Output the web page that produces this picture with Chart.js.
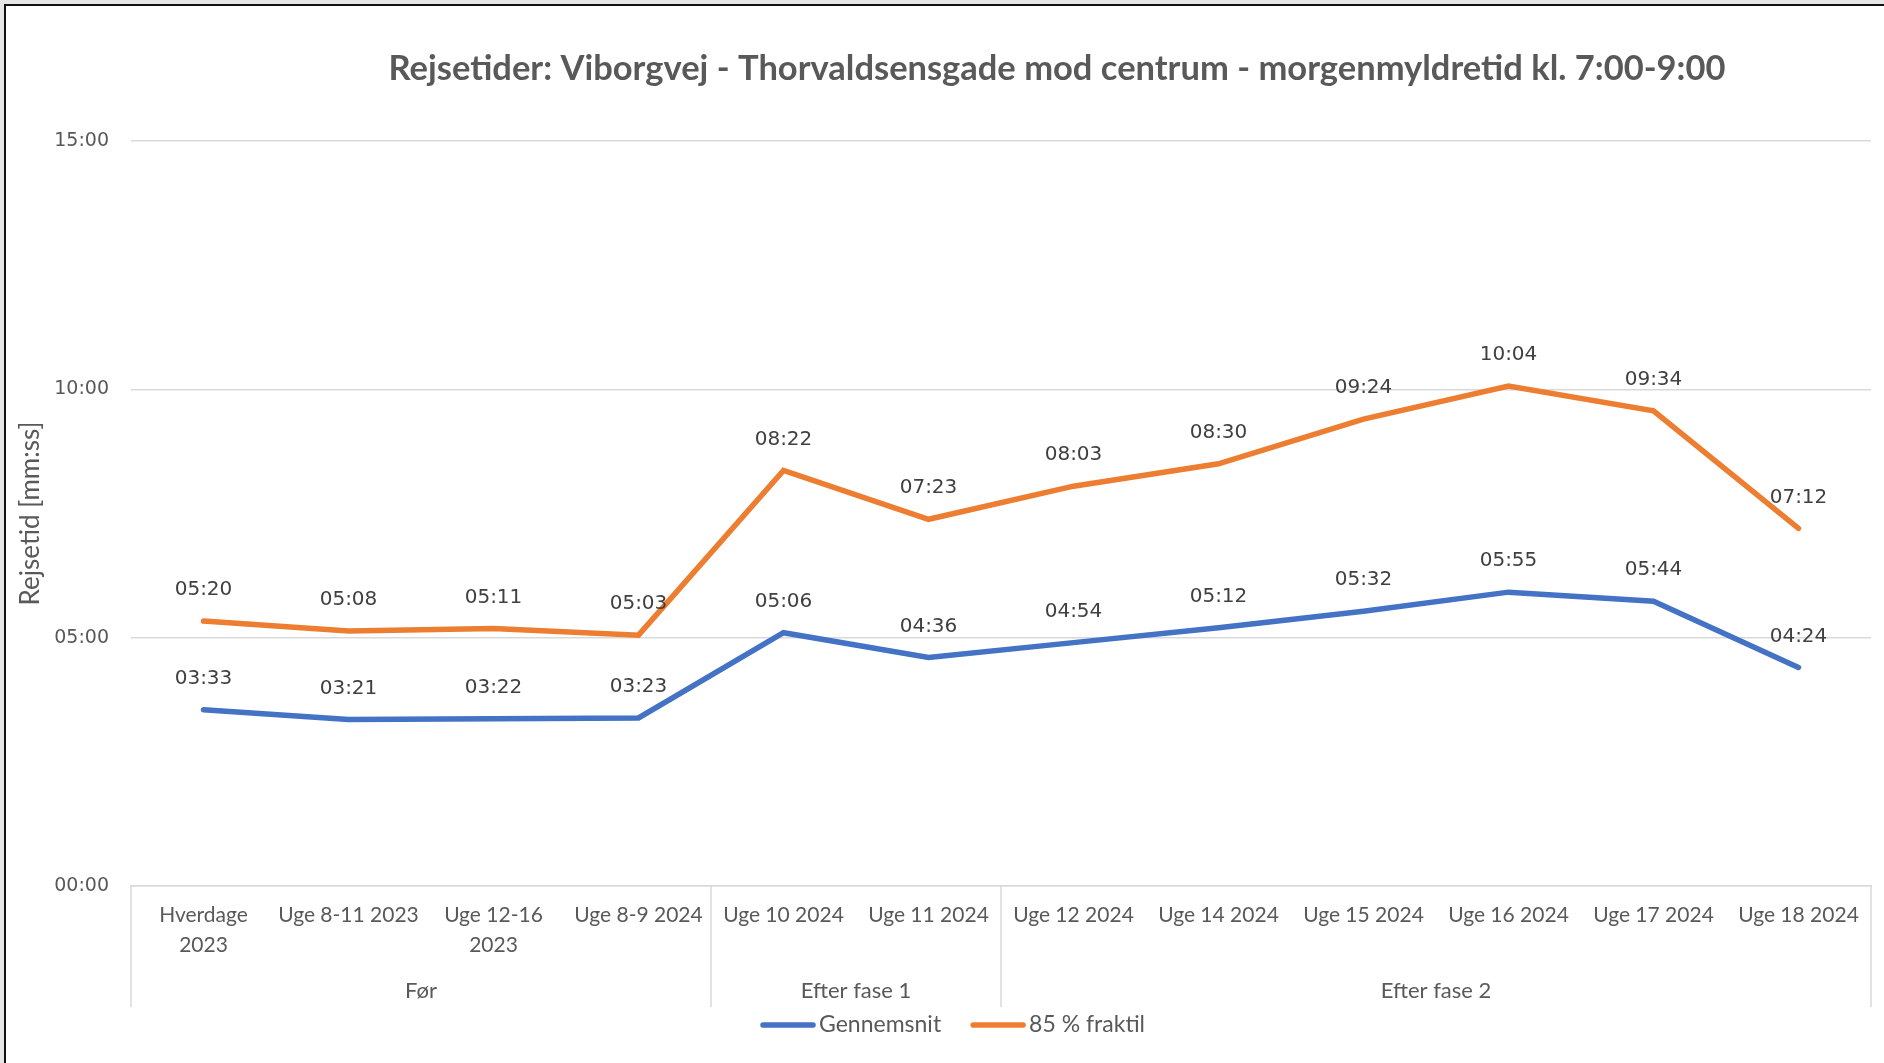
<!DOCTYPE html>
<html>
<head>
<meta charset="utf-8">
<script src="https://cdn.jsdelivr.net/npm/chart.js@4.4.1/dist/chart.umd.min.js"></script>
<style>
  html, body { margin: 0; padding: 0; background: #fff; }
  #wrap { position: relative; width: 1884px; height: 1063px; }
</style>
</head>
<body>
<div id="wrap"><canvas id="travelChart"></canvas></div>
<script>
const categories = [['Hverdage', '2023'], 'Uge 8-11 2023', ['Uge 12-16', '2023'], 'Uge 8-9 2024',
    'Uge 10 2024', 'Uge 11 2024', 'Uge 12 2024', 'Uge 14 2024', 'Uge 15 2024', 'Uge 16 2024',
    'Uge 17 2024', 'Uge 18 2024'];
const groupNames = ['Før', 'Efter fase 1', 'Efter fase 2'];
const groupSizes = [4, 2, 6];
// travel times in seconds
const avgSeconds = [213, 201, 202, 203, 306, 276, 294, 312, 332, 355, 344, 264];
const p85Seconds = [320, 308, 311, 303, 502, 443, 483, 510, 564, 604, 574, 432];
const yMax = 900;
const yStep = 300;

const TITLE = 'Rejsetider: Viborgvej - Thorvaldsensgade mod centrum - morgenmyldretid kl. 7:00-9:00';
const SANS = "'Lato', sans-serif";
const GOTHIC = "'DejaVu Sans', sans-serif";

// seconds -> mm:ss
function mmss(sec) {
    const m = Math.floor(sec / 60);
    const s = Math.round(sec % 60);
    return String(m).padStart(2, '0') + ':' + String(s).padStart(2, '0');
}

// page frame (border lines of the original screenshot)
const framePlugin = {
    id: 'frame',
    beforeDraw(chart) {
        const ctx = chart.ctx;
        ctx.save();
        ctx.fillStyle = '#ffffff';
        ctx.fillRect(0, 0, chart.width, chart.height);
        ctx.fillStyle = '#e6e6e6';
        ctx.fillRect(0, 0, 4, chart.height);
        ctx.fillRect(0, 0, chart.width, 4);
        ctx.fillStyle = '#111111';
        ctx.fillRect(4, 4, 2, chart.height);
        ctx.fillRect(4, 4, chart.width, 2);
        ctx.restore();
    }
};

// value labels above each point
const pointLabelsPlugin = {
    id: 'pointLabels',
    afterDatasetsDraw(chart) {
        const ctx = chart.ctx;
        ctx.save();
        ctx.font = '20px ' + GOTHIC;
        ctx.fillStyle = '#404040';
        ctx.textAlign = 'center';
        ctx.textBaseline = 'middle';
        chart.data.datasets.forEach((ds, di) => {
            chart.getDatasetMeta(di).data.forEach((pt, i) => {
                ctx.fillText(mmss(ds.data[i]), pt.x, pt.y - 31);
            });
        });
        ctx.restore();
    }
};

// second category level (group names) and separators
const groupAxisPlugin = {
    id: 'groupAxis',
    afterDraw(chart) {
        const ctx = chart.ctx;
        const x = chart.scales.x;
        const top = chart.chartArea.bottom;
        const bottom = top + 121;
        ctx.save();
        ctx.strokeStyle = '#d9d9d9';
        ctx.lineWidth = 1.5;
        ctx.font = '22px ' + SANS;
        ctx.fillStyle = '#595959';
        ctx.textAlign = 'center';
        ctx.textBaseline = 'middle';
        let start = 0;
        const edges = [x.getPixelForValue(-0.5)];
        groupSizes.forEach((n, g) => {
            const left = x.getPixelForValue(start - 0.5);
            const right = x.getPixelForValue(start + n - 0.5);
            edges.push(right);
            ctx.fillText(groupNames[g], (left + right) / 2, top + 105);
            start += n;
        });
        edges.forEach(px => {
            ctx.beginPath();
            ctx.moveTo(px, top);
            ctx.lineTo(px, bottom);
            ctx.stroke();
        });
        ctx.restore();
    }
};

// title and legend, placed like in the original
const decorPlugin = {
    id: 'decor',
    afterDraw(chart) {
        const ctx = chart.ctx;
        ctx.save();
        ctx.font = 'bold 34.5px ' + SANS;
        ctx.fillStyle = '#595959';
        ctx.textAlign = 'center';
        ctx.textBaseline = 'middle';
        ctx.fillText(TITLE, 1057, 69);

        // legend: line swatch + label
        ctx.font = '23px ' + SANS;
        ctx.textAlign = 'left';
        const swatch = 54, gap = 4, itemGap = 30;
        const items = chart.data.datasets.map(ds => ({
            text: ds.label, color: ds.borderColor, w: ctx.measureText(ds.label).width
        }));
        const total = items.reduce((a, it) => a + swatch + gap + it.w, 0) + itemGap * (items.length - 1);
        let lx = chart.width / 2 + 11 - total / 2;
        const ly = 1025;
        items.forEach(it => {
            ctx.strokeStyle = it.color;
            ctx.lineWidth = 5.5;
            ctx.lineCap = 'round';
            ctx.beginPath();
            ctx.moveTo(lx + 2, ly);
            ctx.lineTo(lx + swatch - 2, ly);
            ctx.stroke();
            ctx.fillStyle = '#595959';
            ctx.fillText(it.text, lx + swatch + gap, ly);
            lx += swatch + gap + it.w + itemGap;
        });
        ctx.restore();
    }
};

new Chart(document.getElementById('travelChart'), {
    type: 'line',
    data: {
        labels: categories,
        datasets: [
            {
                label: 'Gennemsnit',
                data: avgSeconds,
                borderColor: '#4472c4',
                backgroundColor: '#4472c4',
                borderWidth: 5.5,
                pointRadius: 0,
                tension: 0,
                borderCapStyle: 'round'
            },
            {
                label: '85 % fraktil',
                data: p85Seconds,
                borderColor: '#ed7d31',
                backgroundColor: '#ed7d31',
                borderWidth: 5.5,
                pointRadius: 0,
                tension: 0,
                borderCapStyle: 'round'
            }
        ]
    },
    options: {
        responsive: true,
        maintainAspectRatio: false,
        animation: false,
        layout: { padding: { top: 141, left: 6, right: 13, bottom: 56 } },
        plugins: {
            legend: { display: false },
            tooltip: { enabled: false },
            title: { display: false }
        },
        scales: {
            x: {
                offset: true,
                grid: { display: false },
                border: { display: true, color: '#d9d9d9', width: 1.5 },
                ticks: {
                    color: '#595959',
                    padding: 6,
                    maxRotation: 0,
                    autoSkip: false,
                    font: { family: SANS, size: 21, lineHeight: 1.43 }
                },
                afterFit(scale) { scale.height = 121; }
            },
            y: {
                min: 0,
                max: yMax,
                grid: { color: '#d9d9d9', lineWidth: 1.5, drawTicks: false },
                border: { display: false },
                ticks: {
                    stepSize: yStep,
                    padding: 22,
                    color: '#595959',
                    font: { family: GOTHIC, size: 19 },
                    callback: v => mmss(v)
                },
                title: {
                    display: true,
                    text: 'Rejsetid [mm:ss]',
                    color: '#595959',
                    font: { family: SANS, size: 26 },
                    padding: { top: 9, bottom: 0 }
                },
                afterFit(scale) { scale.width = 125; }
            }
        }
    },
    plugins: [framePlugin, pointLabelsPlugin, groupAxisPlugin, decorPlugin]
});
</script>
</body>
</html>
